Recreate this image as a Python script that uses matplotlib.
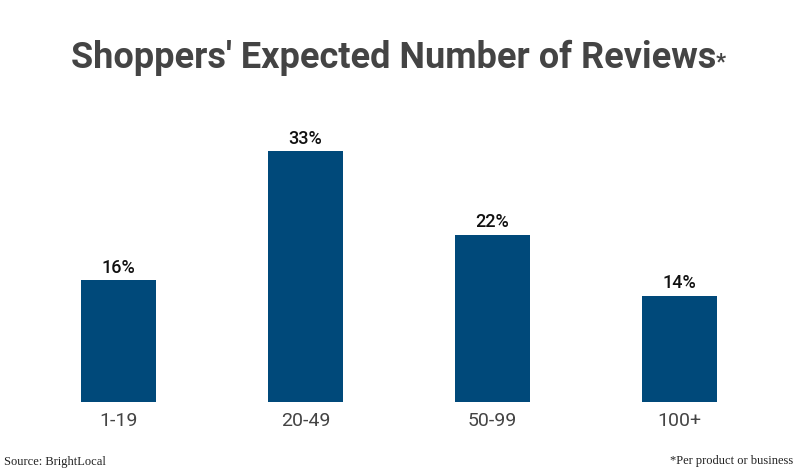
import matplotlib
matplotlib.use('Agg')
import matplotlib.pyplot as plt

# Dados do gráfico
categorias = ['1-19', '20-49', '50-99', '100+']
valores = [16, 33, 22, 14]
rotulos = ['16%', '33%', '22%', '14%']

cor_barra = '#00497a'
cor_texto = '#444444'

fig = plt.figure(figsize=(8, 4.75), dpi=100)
ax = fig.add_axes([25/800, 1 - 402/475, 748/800, 45*7.6/475])

x = range(len(categorias))
barras = ax.bar(x, valores, width=0.401, color=cor_barra)
ax.set_xlim(-0.5, 3.5)
ax.set_ylim(0, 45)

# Rótulos de valor acima das barras
for b, r in zip(barras, rotulos):
    ax.annotate(r, (b.get_x() + b.get_width()/2, b.get_height()),
                xytext=(0, 2.5), textcoords='offset points',
                ha='center', va='bottom', fontsize=13, fontweight='medium',
                family='Roboto', color='#111111')

ax.set_xticks(list(x))
ax.set_xticklabels(categorias, family='Roboto', fontsize=14, color=cor_texto)
ax.tick_params(axis='x', length=0, pad=7)
ax.set_yticks([])
for s in ax.spines.values():
    s.set_visible(False)

# Título
fig.text(394/800, 1 - 58/475, "Shoppers' Expected Number of Reviews",
         ha='center', va='center', family='Roboto', fontweight='bold',
         fontsize=26, color=cor_texto)
fig.text(716/800, 1 - 62/475, '*', ha='left', va='center', family='Roboto',
         fontweight='bold', fontsize=16, color=cor_texto)

# Notas de rodapé
fig.text(4/800, 1 - 462/475, 'Source: BrightLocal', ha='left', va='center',
         family='Liberation Serif', fontsize=9, color='#222222')
fig.text(793/800, 1 - 461/475, '*Per product or business', ha='right',
         va='center', family='Liberation Serif', fontsize=9, color='#222222')

fig.savefig('out.png', dpi=100)
